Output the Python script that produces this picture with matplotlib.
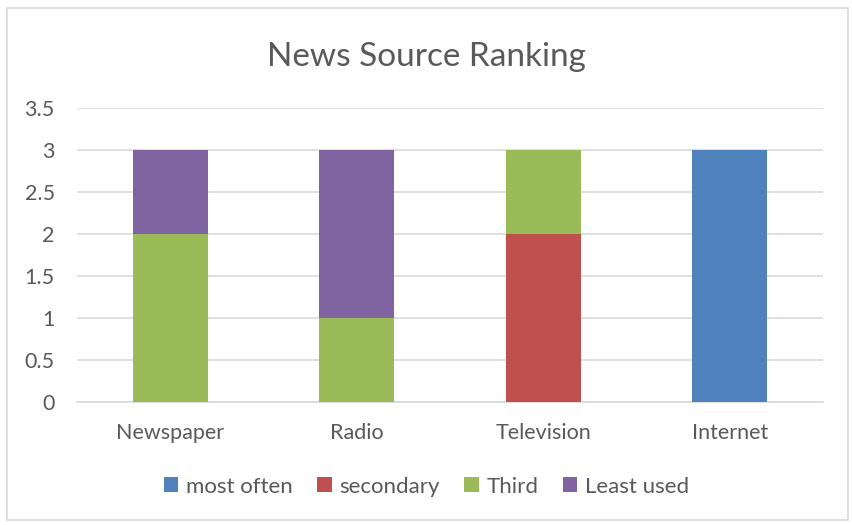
import matplotlib.pyplot as plt
from matplotlib.patches import Rectangle
import numpy as np

plt.rcParams["font.family"] = ["Lato", "DejaVu Sans"]

categories = ["Newspaper", "Radio", "Television", "Internet"]
series = ["most often", "secondary", "Third", "Least used"]
most_often = [0, 0, 0, 3]
secondary = [0, 0, 2, 0]
third = [2, 1, 1, 0]
least_used = [1, 2, 0, 0]
colors = ["#4f81bd", "#c0504d", "#9bbb59", "#8064a2"]

text_color = "#595959"
grid_color = "#d9d9d9"

fig = plt.figure(figsize=(8.53, 5.25), dpi=100)
ax = fig.add_axes([0.0903, 0.2343, 0.8745, 0.56])

x = np.arange(len(categories))
bottom = np.zeros(len(categories))
for name, vals, c in zip(series, [most_often, secondary, third, least_used], colors):
    ax.bar(x, vals, width=0.4, bottom=bottom, color=c, label=name, zorder=3)
    bottom += np.array(vals)

ax.set_xlim(-0.5, 3.5)
ax.set_ylim(0, 3.5)
ax.set_yticks(np.arange(0, 3.51, 0.5))
ax.set_yticklabels(["0", "0.5", "1", "1.5", "2", "2.5", "3", "3.5"])
ax.set_xticks(x)
ax.set_xticklabels(categories)
ax.tick_params(length=0, labelsize=15.5, colors=text_color)
ax.tick_params(axis="x", pad=15)
ax.tick_params(axis="y", pad=16)
ax.grid(axis="y", color=grid_color, linewidth=1.2, zorder=0)
for s in ["top", "right", "left"]:
    ax.spines[s].set_visible(False)
ax.spines["bottom"].set_color(grid_color)
ax.spines["bottom"].set_linewidth(1.2)

fig.text(0.5, 0.892, "News Source Ranking", ha="center", va="center",
         fontsize=24, color=text_color)

fig.legend(loc="center", bbox_to_anchor=(0.5, 0.073), ncol=4, frameon=False,
           fontsize=16, labelcolor=text_color, handlelength=0.65, handleheight=0.65,
           handletextpad=0.35, columnspacing=1.1)

fig.patches.append(Rectangle((7 / 853, 1 - 520 / 525), 841 / 853, 512 / 525,
                             transform=fig.transFigure, fill=False,
                             edgecolor=grid_color, linewidth=1.2))

fig.savefig("out.png", dpi=100)
